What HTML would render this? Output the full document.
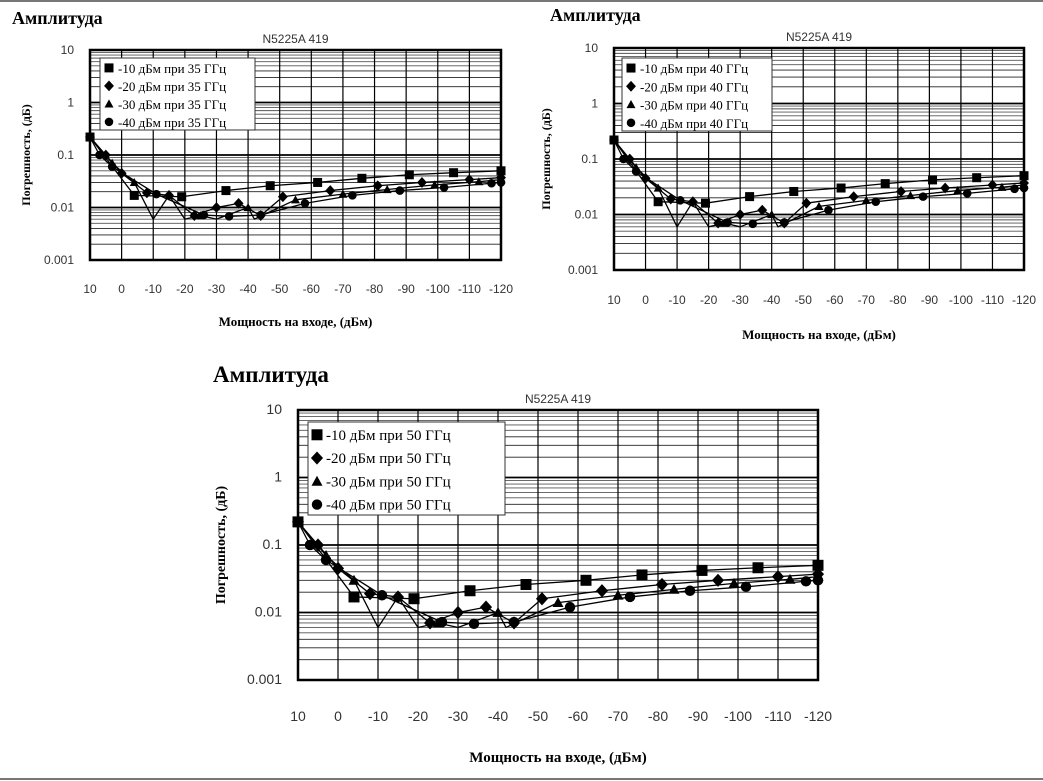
<!DOCTYPE html>
<html><head><meta charset="utf-8"><style>
html,body{margin:0;padding:0;background:#fff;}
svg{display:block}
</style></head><body>
<svg id="s" width="1043" height="781" xmlns="http://www.w3.org/2000/svg" font-family="Liberation Sans, sans-serif">
<rect width="1043" height="781" fill="#fff"/>
<line x1="0" y1="1" x2="1043" y2="1" stroke="#777" stroke-width="2"/>
<line x1="0" y1="779" x2="1043" y2="779" stroke="#777" stroke-width="2"/>
</svg>
<script>
const S=document.getElementById('s');const NS='http://www.w3.org/2000/svg';
function el(t,a,txt){const e=document.createElementNS(NS,t);for(const k in a)e.setAttribute(k,a[k]);if(txt!=null)e.textContent=txt;S.appendChild(e);return e;}
const data={
sq:[[10,0.22],[-4,0.017],[-19,0.016],[-33,0.021],[-47,0.026],[-62,0.03],[-76,0.036],[-91,0.042],[-105,0.046],[-120,0.05]],
di:[[10,0.22],[5,0.1],[0,0.045],[-8,0.019],[-15,0.017],[-23,0.007],[-30,0.01],[-37,0.012],[-44,0.007],[-51,0.016],[-66,0.021],[-81,0.026],[-95,0.03],[-110,0.034],[-120,0.037]],
tr:[[10,0.22],[3,0.07],[-4,0.03],[-10,0.006],[-15,0.017],[-20,0.006],[-25,0.007],[-30,0.006],[-40,0.01],[-42,0.006],[-55,0.014],[-70,0.018],[-84,0.022],[-99,0.027],[-113,0.031],[-120,0.034]],
ci:[[10,0.22],[7,0.1],[3,0.06],[-11,0.018],[-26,0.0072],[-34,0.0068],[-44,0.0072],[-58,0.012],[-73,0.017],[-88,0.021],[-102,0.024],[-117,0.029],[-120,0.03]]};
function chart(o){
 const {x0,x1,y0,y1,f,fs}=o;const dec=(y1-y0)/4;
 const X=v=>x0+(10-v)/130*(x1-x0);const Y=v=>y0+(1-Math.log10(v))*dec;
 el('text',{x:o.tx,y:o.ty,'font-family':'Liberation Serif, serif','font-weight':'bold','font-size':o.tfs},'Амплитуда');
 el('text',{x:(x0+x1)/2,y:y0-7,'text-anchor':'middle','font-size':12,fill:'#333'},'N5225A 419');
 for(let e=-3;e<1;e++)for(let m=1;m<10;m++){const v=m*Math.pow(10,e);const y=Y(v);
   el('line',{x1:x0,x2:x1,y1:y,y2:y,stroke:m==1?'#000':(m>=5?'#555':'#222'),'stroke-width':m==1?1.8:0.9});}
 for(let v=10;v>=-120;v-=10){const x=X(v);el('line',{x1:x,x2:x,y1:y0,y2:y1,stroke:'#000','stroke-width':1.2});
   el('text',{x:x,y:o.lx,'text-anchor':'middle','font-size':fs,fill:'#333'},v);}
 el('rect',{x:x0,y:y0,width:x1-x0,height:y1-y0,fill:'none',stroke:'#000','stroke-width':2.5});
 ['10','1','0.1','0.01','0.001'].forEach((t,i)=>el('text',{x:x0-16,y:y0+i*dec+4,'text-anchor':'end','font-size':fs,fill:'#333'},t));
 el('text',{x:0,y:0,'font-family':'Liberation Serif, serif','font-weight':'bold','font-size':fs,'text-anchor':'middle',transform:`translate(${o.ylx},${(y0+y1)/2}) rotate(-90)`},'Погрешность,   (дБ)');
 el('text',{x:(x0+x1)/2,y:o.ax,'text-anchor':'middle','font-family':'Liberation Serif, serif','font-weight':'bold','font-size':o.afs},'Мощность на входе, (дБм)');
 const ms=o.ms;
 function mark(k,x,y){if(k=='sq')el('rect',{x:x-ms,y:y-ms,width:2*ms,height:2*ms,fill:'#000'});
  else if(k=='di')el('polygon',{points:`${x},${y-ms*1.2} ${x+ms*1.1},${y} ${x},${y+ms*1.2} ${x-ms*1.1},${y}`,fill:'#000'});
  else if(k=='tr')el('polygon',{points:`${x},${y-ms} ${x+ms},${y+ms*.8} ${x-ms},${y+ms*.8}`,fill:'#000'});
  else el('circle',{cx:x,cy:y,r:ms*.95,fill:'#000'});}
 for(const k in data){const pts=data[k].map(p=>[X(p[0]),Y(p[1])]);
  el('polyline',{points:pts.map(p=>p.join(',')).join(' '),fill:'none',stroke:'#000','stroke-width':1.3,'stroke-linejoin':'round'});
  data[k].forEach((p,i)=>{if(k=='tr'&&(p[1]<=0.0061))return;mark(k,pts[i][0],pts[i][1]);});}
 const L=o.lg;el('rect',{x:L.x,y:L.y,width:L.w,height:L.h,fill:'#fff',stroke:'#333','stroke-width':1});
 ['sq','di','tr','ci'].forEach((k,i)=>{const yy=L.y+L.h*(i+0.55)/4;mark(k,L.x+9,yy);
  el('text',{x:L.x+18,y:yy+5,'font-family':'Liberation Serif, serif','font-size':L.fs},`-${(i+1)*10} дБм при ${o.f} ГГц`);});
}
chart({x0:90,x1:501,y0:50,y1:260,f:35,fs:12,tx:12,ty:24,tfs:18,lx:293,ylx:30,ax:326,afs:13,ms:4.5,lg:{x:100,y:58,w:155,h:72,fs:13}});
chart({x0:614,x1:1024,y0:48,y1:270,f:40,fs:12,tx:550,ty:21,tfs:18,lx:304,ylx:550,ax:339,afs:13,ms:4.5,lg:{x:622,y:58,w:150,h:73,fs:13}});
chart({x0:298,x1:818,y0:410,y1:680,f:50,fs:14,tx:213,ty:382,tfs:23,lx:721,ylx:225,ax:762,afs:15,ms:5.5,lg:{x:308,y:422,w:197,h:93,fs:15}});
</script>
</body></html>
